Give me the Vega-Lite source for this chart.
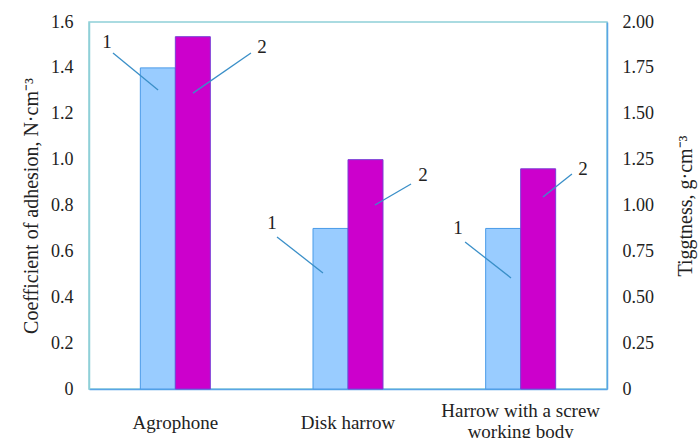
{
  "$schema": "https://vega.github.io/schema/vega-lite/v6.json",
  "autosize": {"type": "none"},
  "padding": {"left": 89, "top": 22, "right": 91, "bottom": 49},
  "width": 518,
  "height": 367,
  "background": "white",
  "config": {
    "font": "Liberation Serif",
    "view": {"stroke": "#8fd0d8", "strokeWidth": 1.5},
    "axis": {"grid": false, "ticks": false, "tickSize": 0, "labelFont": "Liberation Serif", "titleFont": "Liberation Serif", "labelColor": "#222", "titleColor": "#222", "titleFontWeight": "normal"}
  },
  "datasets": {
    "bars": [
      {"implement": "Agrophone", "adhesion": 1.40, "tightness": 1.92},
      {"implement": "Disk harrow", "adhesion": 0.70, "tightness": 1.25},
      {"implement": "Harrow with a screw working body", "adhesion": 0.70, "tightness": 1.20}
    ],
    "leaders": [
      {"x": 0.139, "y": 1.465, "x2": 0.400, "y2": 1.304},
      {"x": 0.938, "y": 1.465, "x2": 0.602, "y2": 1.290},
      {"x": 1.089, "y": 0.663, "x2": 1.355, "y2": 0.506},
      {"x": 1.865, "y": 0.894, "x2": 1.656, "y2": 0.802},
      {"x": 2.178, "y": 0.641, "x2": 2.444, "y2": 0.484},
      {"x": 2.797, "y": 0.937, "x2": 2.629, "y2": 0.837}
    ],
    "labels": [
      {"label": "1", "x": 0.104, "y": 1.513},
      {"label": "2", "x": 1.002, "y": 1.491},
      {"label": "1", "x": 1.060, "y": 0.724},
      {"label": "2", "x": 1.934, "y": 0.933},
      {"label": "1", "x": 2.137, "y": 0.702},
      {"label": "2", "x": 2.861, "y": 0.959}
    ]
  },
  "layer": [
    {
      "data": {"name": "bars"},
      "mark": {"type": "bar", "size": 35, "xOffset": -17.5, "fill": "#99ccff", "stroke": "#4a9be8", "strokeWidth": 1},
      "encoding": {
        "x": {"field": "implement", "type": "nominal", "sort": null,
          "scale": {"paddingInner": 0, "paddingOuter": 0},
          "axis": {"title": null, "labelAngle": 0, "labelFontSize": 19, "labelBaseline": "middle",
            "labelPadding": {"condition": {"test": "datum.value == 'Harrow with a screw working body'", "value": 21}, "value": 33},
            "labelLineHeight": 21, "domainColor": "#5aa5e6", "domainWidth": 1.5,
            "labelExpr": "datum.label == 'Harrow with a screw working body' ? ['Harrow with a screw', 'working body'] : datum.label"}},
        "y": {"field": "adhesion", "type": "quantitative",
          "scale": {"domain": [0, 1.6], "nice": false},
          "axis": {"orient": "left", "title": "Coefficient of adhesion, N·cm⁻³", "values": [0, 0.2, 0.4, 0.6, 0.8, 1.0, 1.2, 1.4, 1.6],
            "labelExpr": "datum.value == 0 ? '0' : format(datum.value, '.1f')",
            "labelFontSize": 18, "labelPadding": 16, "titleFontSize": 20, "titleX": -58, "titleBaseline": "middle", "domainColor": "#8fd0d8", "domainWidth": 1.5}}
      }
    },
    {
      "data": {"name": "bars"},
      "mark": {"type": "bar", "size": 35, "xOffset": 17.5, "fill": "#cc00cc", "stroke": "#7b3fd6", "strokeWidth": 1},
      "encoding": {
        "x": {"field": "implement", "type": "nominal", "sort": null,
          "scale": {"paddingInner": 0, "paddingOuter": 0}, "axis": null},
        "y": {"field": "tightness", "type": "quantitative",
          "scale": {"domain": [0, 2], "nice": false},
          "axis": {"orient": "right", "title": "Tiggtness, g·cm⁻³", "values": [0, 0.25, 0.5, 0.75, 1.0, 1.25, 1.5, 1.75, 2.0],
            "labelExpr": "datum.value == 0 ? '0' : format(datum.value, '.2f')",
            "labelFontSize": 18, "labelPadding": 15, "titleFontSize": 20, "titleAngle": 270, "titleX": 78, "titleBaseline": "middle", "domainColor": "#5aa5e6", "domainWidth": 1.5}}
      }
    },
    {
      "data": {"name": "leaders"},
      "mark": {"type": "rule", "color": "#3a8fc8", "strokeWidth": 1.3},
      "encoding": {
        "x": {"field": "x", "type": "quantitative", "scale": {"domain": [0, 3], "nice": false}, "axis": null},
        "x2": {"field": "x2"},
        "y": {"field": "y", "type": "quantitative", "scale": {"domain": [0, 1.6], "nice": false}, "axis": null},
        "y2": {"field": "y2"}
      }
    },
    {
      "data": {"name": "labels"},
      "mark": {"type": "text", "fontSize": 19, "font": "Liberation Serif", "color": "#222", "align": "center", "baseline": "middle"},
      "encoding": {
        "x": {"field": "x", "type": "quantitative", "scale": {"domain": [0, 3], "nice": false}, "axis": null},
        "y": {"field": "y", "type": "quantitative", "scale": {"domain": [0, 1.6], "nice": false}, "axis": null},
        "text": {"field": "label"}
      }
    }
  ],
  "resolve": {"scale": {"x": "independent", "y": "independent"}}
}
